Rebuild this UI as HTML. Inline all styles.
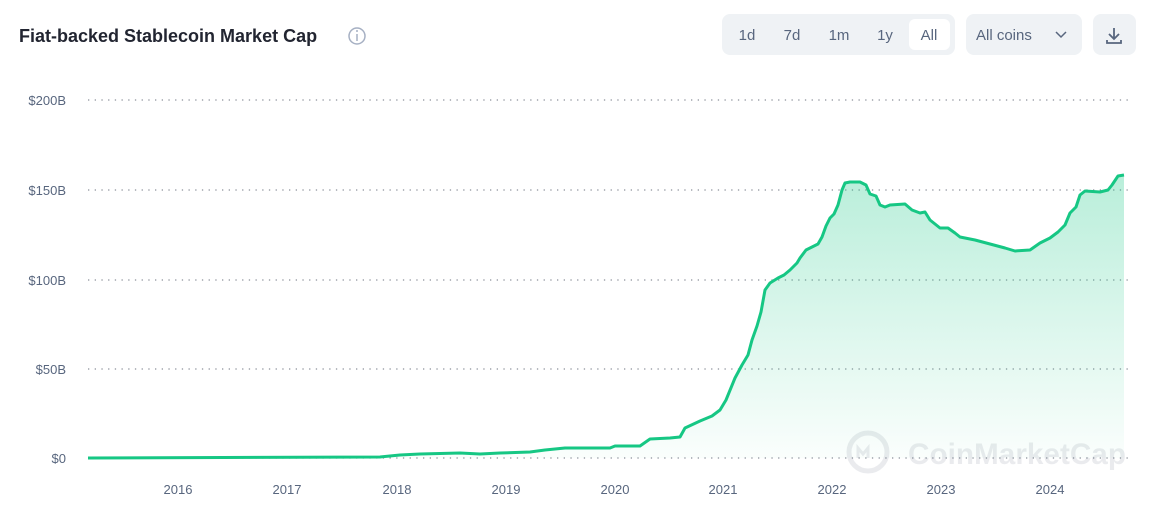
<!DOCTYPE html>
<html><head><meta charset="utf-8"><style>
body{margin:0;background:#fff;width:1152px;height:518px;overflow:hidden;font-family:"Liberation Sans",sans-serif}
</style></head><body>
<svg width="1152" height="518" xmlns="http://www.w3.org/2000/svg" font-family="Liberation Sans, sans-serif">
<defs>
<linearGradient id="g" x1="0" y1="0" x2="0" y2="1">
<stop offset="0" stop-color="#16c784" stop-opacity="0.3"/>
<stop offset="1" stop-color="#16c784" stop-opacity="0.02"/>
</linearGradient>
</defs>
<text x="19" y="42" font-size="18" font-weight="bold" fill="#222531">Fiat-backed Stablecoin Market Cap</text>
<circle cx="357" cy="36" r="8" fill="none" stroke="#a6b0c3" stroke-width="1.5"/>
<line x1="357" y1="34" x2="357" y2="41" stroke="#a6b0c3" stroke-width="1.5"/>
<circle cx="357" cy="31" r="1" fill="#a6b0c3"/>
<rect x="722" y="14" width="233" height="41" rx="8" fill="#eff2f5"/>
<rect x="909" y="19" width="41" height="31" rx="6" fill="#fff"/>
<g font-size="15" fill="#58667e" text-anchor="middle">
<text x="747" y="40">1d</text><text x="792" y="40">7d</text><text x="839" y="40">1m</text><text x="885" y="40">1y</text><text x="929" y="40" fill="#58667e">All</text>
</g>
<rect x="966" y="14" width="116" height="41" rx="8" fill="#eff2f5"/>
<text x="976" y="40" font-size="15" fill="#58667e">All coins</text>
<path d="M1056 32 l5 5 l5 -5" fill="none" stroke="#58667e" stroke-width="1.5"/>
<rect x="1093" y="14" width="43" height="41" rx="8" fill="#eff2f5"/>
<path d="M1114 28 v11 M1109 34 l5 5 l5 -5 M1107 40 v3 h14 v-3" fill="none" stroke="#58667e" stroke-width="1.8"/>
<g stroke="#8a8f99" stroke-width="1.3" stroke-dasharray="1.3 5.4">
<line x1="88" y1="100" x2="1132" y2="100"/><line x1="88" y1="190" x2="1132" y2="190"/><line x1="88" y1="280" x2="1132" y2="280"/><line x1="88" y1="369" x2="1132" y2="369"/><line x1="88" y1="458" x2="1132" y2="458"/>
</g>
<g font-size="13" fill="#58667e" text-anchor="end">
<text x="66" y="105">$200B</text><text x="66" y="195">$150B</text><text x="66" y="285">$100B</text><text x="66" y="374">$50B</text><text x="66" y="463">$0</text>
</g>
<g font-size="13" fill="#58667e" text-anchor="middle">
<text x="178" y="494">2016</text><text x="287" y="494">2017</text><text x="397" y="494">2018</text><text x="506" y="494">2019</text><text x="615" y="494">2020</text><text x="723" y="494">2021</text><text x="832" y="494">2022</text><text x="941" y="494">2023</text><text x="1050" y="494">2024</text>
</g>
<g opacity="0.12" fill="#58667e">
<circle cx="868" cy="452" r="19" fill="none" stroke="#58667e" stroke-width="5"/>
<path d="M858 458 v-10 l5 6 l5 -6 v10" fill="none" stroke="#58667e" stroke-width="3"/>
<text x="908" y="464" font-size="30" font-weight="bold" textLength="218" lengthAdjust="spacingAndGlyphs">CoinMarketCap</text>
</g>
<path d="M88,458 L380,457 L400,455 L420,454 L460,453 L480,454 L500,453 L530,452 L545,450 L565,448 L610,448 L615,446 L640,446 L650,439 L670,438 L680,437 L685,428 L700,421 L712,416 L720,410 L726,400 L735,378 L742,365 L748,355 L752,340 L757,326 L761,312 L765,290 L770,283 L778,278 L784,275 L790,270 L797,263 L800,258 L806,250 L812,247 L818,244 L822,237 L826,226 L830,218 L834,214 L838,205 L842,190 L845,183 L850,182 L860,182 L866,185 L870,194 L876,196 L880,205 L885,207 L890,205 L905,204 L912,210 L920,213 L925,212 L930,220 L940,228 L948,228 L955,233 L960,237 L975,240 L990,244 L1005,248 L1015,251 L1030,250 L1040,243 L1050,238 L1058,232 L1065,225 L1070,213 L1076,207 L1080,195 L1085,191 L1100,192 L1108,190 L1112,185 L1118,176 L1124,175 L1124,458 Z" fill="url(#g)"/>
<path d="M88,458 L380,457 L400,455 L420,454 L460,453 L480,454 L500,453 L530,452 L545,450 L565,448 L610,448 L615,446 L640,446 L650,439 L670,438 L680,437 L685,428 L700,421 L712,416 L720,410 L726,400 L735,378 L742,365 L748,355 L752,340 L757,326 L761,312 L765,290 L770,283 L778,278 L784,275 L790,270 L797,263 L800,258 L806,250 L812,247 L818,244 L822,237 L826,226 L830,218 L834,214 L838,205 L842,190 L845,183 L850,182 L860,182 L866,185 L870,194 L876,196 L880,205 L885,207 L890,205 L905,204 L912,210 L920,213 L925,212 L930,220 L940,228 L948,228 L955,233 L960,237 L975,240 L990,244 L1005,248 L1015,251 L1030,250 L1040,243 L1050,238 L1058,232 L1065,225 L1070,213 L1076,207 L1080,195 L1085,191 L1100,192 L1108,190 L1112,185 L1118,176 L1124,175" fill="none" stroke="#16c784" stroke-width="3" stroke-linejoin="round"/>
</svg>
</body></html>
